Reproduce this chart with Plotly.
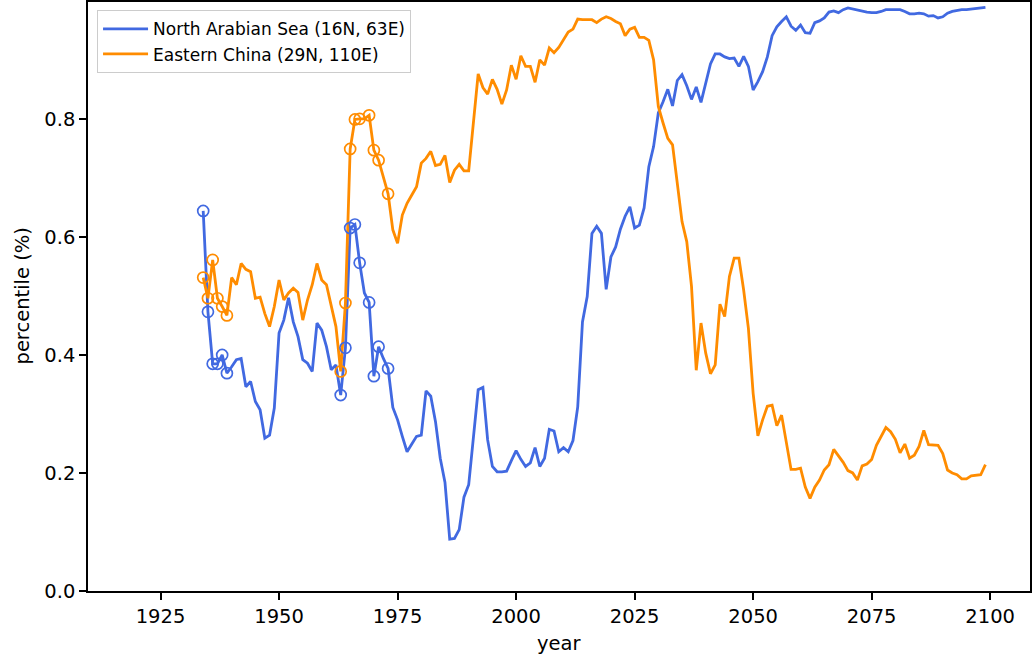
"""
Percentile time series for two regions, 1934-2099.
Open circles mark the years flagged in the source figure.
"""

import plotly.graph_objects as go

# --- Data ---

years = list(range(1934, 2100))

north_arabian_sea = [
    0.644, 0.473, 0.385, 0.385, 0.400, 0.369, 0.380, 0.392, 0.394, 0.346,  # 1934-1943
    0.355, 0.321, 0.307, 0.259, 0.264, 0.310, 0.437, 0.459, 0.497, 0.456,  # 1944-1953
    0.431, 0.392, 0.386, 0.372, 0.454, 0.442, 0.414, 0.375, 0.383, 0.332,  # 1954-1963
    0.412, 0.615, 0.621, 0.556, 0.505, 0.489, 0.364, 0.414, 0.394, 0.377,  # 1964-1973
    0.311, 0.290, 0.262, 0.236, 0.249, 0.262, 0.264, 0.339, 0.330, 0.287,  # 1974-1983
    0.225, 0.184, 0.088, 0.089, 0.104, 0.159, 0.180, 0.262, 0.341, 0.345,  # 1984-1993
    0.256, 0.211, 0.202, 0.202, 0.203, 0.221, 0.238, 0.223, 0.211, 0.217,  # 1994-2003
    0.243, 0.211, 0.225, 0.274, 0.271, 0.236, 0.243, 0.236, 0.255, 0.312,  # 2004-2013
    0.456, 0.499, 0.606, 0.618, 0.606, 0.511, 0.566, 0.583, 0.613, 0.635,  # 2014-2023
    0.651, 0.615, 0.620, 0.649, 0.719, 0.753, 0.810, 0.829, 0.850, 0.822,  # 2024-2033
    0.865, 0.875, 0.856, 0.833, 0.854, 0.828, 0.860, 0.893, 0.910, 0.910,  # 2034-2043
    0.905, 0.902, 0.903, 0.889, 0.906, 0.889, 0.849, 0.863, 0.880, 0.905,  # 2044-2053
    0.941, 0.956, 0.965, 0.973, 0.957, 0.950, 0.959, 0.946, 0.945, 0.963,  # 2054-2063
    0.966, 0.971, 0.981, 0.983, 0.980, 0.985, 0.988, 0.986, 0.984, 0.982,  # 2064-2073
    0.981, 0.980, 0.980, 0.982, 0.985, 0.985, 0.985, 0.985, 0.982, 0.978,  # 2074-2083
    0.978, 0.979, 0.978, 0.974, 0.975, 0.971, 0.973, 0.979, 0.982, 0.984,  # 2084-2093
    0.985, 0.985, 0.986, 0.987, 0.988, 0.989,                              # 2094-2099
]

eastern_china = [
    0.531, 0.496, 0.561, 0.496, 0.482, 0.467, 0.531, 0.519, 0.555, 0.545,  # 1934-1943
    0.541, 0.496, 0.498, 0.470, 0.448, 0.482, 0.527, 0.493, 0.505, 0.513,  # 1944-1953
    0.506, 0.459, 0.493, 0.519, 0.555, 0.527, 0.519, 0.482, 0.448, 0.372,  # 1954-1963
    0.488, 0.749, 0.799, 0.800, 0.800, 0.806, 0.747, 0.730, 0.700, 0.673,  # 1964-1973
    0.612, 0.589, 0.637, 0.657, 0.671, 0.685, 0.725, 0.733, 0.745, 0.721,  # 1974-1983
    0.723, 0.738, 0.692, 0.713, 0.723, 0.712, 0.712, 0.793, 0.876, 0.853,  # 1984-1993
    0.842, 0.867, 0.850, 0.825, 0.849, 0.891, 0.867, 0.907, 0.889, 0.889,  # 1994-2003
    0.862, 0.900, 0.891, 0.920, 0.912, 0.921, 0.933, 0.947, 0.952, 0.969,  # 2004-2013
    0.968, 0.968, 0.968, 0.963, 0.969, 0.973, 0.970, 0.965, 0.961, 0.941,  # 2014-2023
    0.952, 0.955, 0.938, 0.938, 0.933, 0.900, 0.821, 0.793, 0.767, 0.756,  # 2024-2033
    0.694, 0.626, 0.592, 0.516, 0.374, 0.454, 0.403, 0.368, 0.383, 0.486,  # 2034-2043
    0.465, 0.533, 0.564, 0.564, 0.510, 0.445, 0.335, 0.263, 0.290, 0.313,  # 2044-2053
    0.315, 0.280, 0.298, 0.250, 0.206, 0.206, 0.208, 0.176, 0.157, 0.176,  # 2054-2063
    0.188, 0.205, 0.214, 0.240, 0.229, 0.218, 0.204, 0.200, 0.188, 0.212,  # 2064-2073
    0.215, 0.223, 0.247, 0.263, 0.277, 0.270, 0.257, 0.234, 0.249, 0.225,  # 2074-2083
    0.230, 0.245, 0.272, 0.248, 0.248, 0.247, 0.233, 0.205, 0.200, 0.197,  # 2084-2093
    0.190, 0.190, 0.195, 0.196, 0.197, 0.214,                              # 2094-2099
]

# years drawn with an open circle
marked_years = [1934, 1935, 1936, 1937, 1938, 1939,
                1963, 1964, 1965, 1966, 1967, 1969, 1970, 1971, 1973]

y_ticks = [0.0, 0.2, 0.4, 0.6, 0.8]
x_ticks = [1925, 1950, 1975, 2000, 2025, 2050, 2075, 2100]

# --- Style ---

FONT = "DejaVu Sans"
TICK_SIZE = 19.5
LABEL_SIZE = 19.5
LEGEND_SIZE = 17
BLUE = "#4169E1"    # royalblue
ORANGE = "#FF8C00"  # darkorange

series = [
    ("North Arabian Sea (16N, 63E)", north_arabian_sea, BLUE),
    ("Eastern China (29N, 110E)", eastern_china, ORANGE),
]

fig = go.Figure()

for name, values, color in series:
    fig.add_trace(go.Scatter(
        x=years,
        y=values,
        mode="lines",
        line=dict(color=color, width=2.8),
        name=name,
    ))

for name, values, color in series:
    fig.add_trace(go.Scatter(
        x=marked_years,
        y=[values[years.index(yr)] for yr in marked_years],
        mode="markers",
        marker=dict(symbol="circle-open", size=11, color=color,
                    line=dict(width=1.7, color=color)),
        showlegend=False,
        hoverinfo="skip",
    ))

axis_common = dict(
    showgrid=False,
    zeroline=False,
    showline=True,
    linecolor="black",
    linewidth=1.6,
    mirror=True,
    ticks="outside",
    ticklen=7,
    tickwidth=1.6,
    tickcolor="black",
    automargin=False,
    tickfont=dict(family=FONT, size=TICK_SIZE, color="black"),
)

fig.update_xaxes(**axis_common, range=[1909.7, 2108.4], tickvals=x_ticks)
fig.update_yaxes(**axis_common, range=[0, 0.998], tickvals=y_ticks, tickformat=".1f")

# axis titles placed by hand so the plot area keeps its fixed margins
label_font = dict(family=FONT, size=LABEL_SIZE, color="black")
fig.add_annotation(
    text="year", xref="paper", yref="paper", x=0.5, y=0,
    xanchor="center", yanchor="middle", yshift=-52,
    showarrow=False, font=label_font,
)
fig.add_annotation(
    text="percentile (%)", xref="paper", yref="paper", x=0, y=0.5,
    xanchor="center", yanchor="middle", xshift=-66, textangle=-90,
    showarrow=False, font=label_font,
)

fig.update_layout(
    width=1032,
    height=657,
    margin=dict(l=88, r=2, t=2, b=66),
    plot_bgcolor="white",
    paper_bgcolor="white",
    font=dict(family=FONT, color="black"),
    showlegend=True,
    legend=dict(
        x=0.0096, y=0.986, xanchor="left", yanchor="top",
        bgcolor="rgba(255,255,255,0.8)",
        bordercolor="#cccccc",
        borderwidth=1,
        itemwidth=45,
        font=dict(family=FONT, size=LEGEND_SIZE, color="black"),
        tracegroupgap=0,
    ),
)

# the page's default body margin would shift the figure by 8px
fig.write_html(
    "out.html",
    config={"displayModeBar": False},
    post_script="document.body.style.margin = '0';",
)
